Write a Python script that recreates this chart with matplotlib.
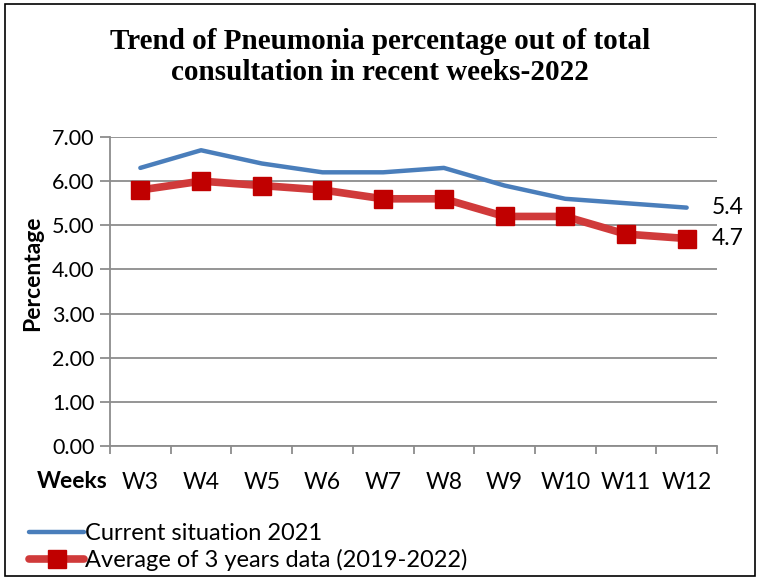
import matplotlib
matplotlib.use("Agg")
import matplotlib.pyplot as plt
from matplotlib.patches import Rectangle

weeks = ["W3", "W4", "W5", "W6", "W7", "W8", "W9", "W10", "W11", "W12"]
current_2021 = [6.3, 6.7, 6.4, 6.2, 6.2, 6.3, 5.9, 5.6, 5.5, 5.4]
avg_3yr = [5.8, 6.0, 5.9, 5.8, 5.6, 5.6, 5.2, 5.2, 4.8, 4.7]
yticks = [0, 1, 2, 3, 4, 5, 6, 7]

plt.rcParams['font.family'] = ['Lato', 'DejaVu Sans']

fig = plt.figure(figsize=(7.6, 5.8), dpi=100)
ax = fig.add_axes([110/760, 1-446/580, (717-110)/760, (446-137)/580])

x = list(range(len(weeks)))
ax.plot(x, current_2021, color='#4a7ebb', lw=3.2, solid_capstyle='round',
        label='Current situation 2021', zorder=3)
ax.plot(x, avg_3yr, color='#d03a3a', lw=5.5, solid_capstyle='round',
        marker='s', markersize=13, markerfacecolor='#c00000', markeredgecolor='#c00000',
        label='Average of 3 years data (2019-2022)', zorder=4)

ax.set_xlim(-0.5, len(weeks) - 0.5)
ax.set_ylim(0, 7)
ax.set_yticks(yticks)
ax.set_yticklabels([f"{v:.2f}" for v in yticks], fontsize=15.5)
ax.set_xticks(x)
ax.set_xticklabels(weeks, fontsize=16.5)
ax.set_xticks([i - 0.5 for i in range(len(weeks) + 1)], minor=True)
ax.tick_params(axis='x', which='major', length=0, pad=19)
ax.tick_params(axis='x', which='minor', length=6, color='#8c8c8c', width=1.3)
ax.tick_params(axis='y', length=7, color='#8c8c8c', width=1.3, pad=4)
ax.grid(axis='y', color='#8c8c8c', lw=1.3, zorder=0)
for s in ['top', 'right']:
    ax.spines[s].set_visible(False)
for s in ['left', 'bottom']:
    ax.spines[s].set_color('#8c8c8c')
    ax.spines[s].set_linewidth(1.3)

ax.annotate(f"{current_2021[-1]}", xy=(x[-1], current_2021[-1]), xytext=(18, 0),
            textcoords='offset points', fontsize=16.5, va='center', ha='left')
ax.annotate(f"{avg_3yr[-1]}", xy=(x[-1], avg_3yr[-1]), xytext=(18, 0),
            textcoords='offset points', fontsize=16.5, va='center', ha='left')

fig.text(33/760, 1-273/580, 'Percentage', fontsize=16.5, fontweight='bold',
         rotation=90, ha='center', va='center')
fig.text(72/760, 1-481/580, 'Weeks', fontsize=16.5, fontweight='bold', ha='center', va='center')

fig.suptitle('Trend of Pneumonia percentage out of total\nconsultation in recent weeks-2022',
             x=380/760, y=1-57/580, va='center', fontsize=21, fontweight='bold',
             family='Liberation Serif', linespacing=1.15)

leg = fig.legend(loc='upper left', bbox_to_anchor=(20/760, 1-514/580), frameon=False,
                 fontsize=17, handlelength=2.3, handletextpad=0.05, labelspacing=0.2,
                 borderaxespad=0)

fig.patches.append(Rectangle((5/760, 4/580), 750/760, 572/580, transform=fig.transFigure,
                             fill=False, edgecolor='black', lw=1.2))

fig.savefig('out.png', dpi=100)
